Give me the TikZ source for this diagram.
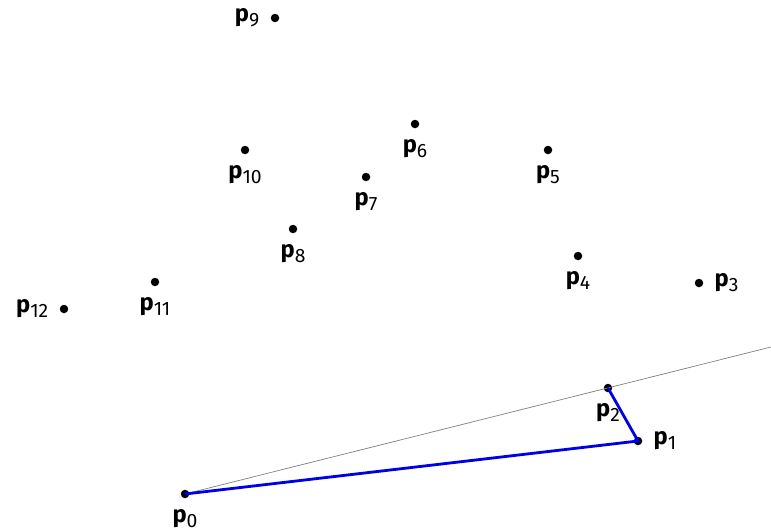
\documentclass[tikz,border=0pt]{standalone}
\usepackage{fontspec}
\setmainfont{Fira Sans}
\usetikzlibrary{positioning}
\definecolor{hullblue}{RGB}{0, 0, 230}

\newcommand{\pt}[1]{\textbf{p}\raisebox{-0.4ex}{\fontsize{11}{11}\selectfont #1}}

\begin{document}
\begin{tikzpicture}[
        x=0.02cm, y=-0.02cm,
        node distance=0.18cm,
        dot/.style={circle, fill=black, inner sep=0pt, minimum size=0.17cm},
        lbl/.style={font=\fontsize{13.5}{13.5}\selectfont, inner sep=1pt},
        hull/.style={line width=1.6pt, color=hullblue},
        ray/.style={thin, color=gray}
        ]
        \useasboundingbox (0,0) rectangle (771,531);

        \node[dot] (p0) at (185,494) {};
        \node[dot] (p1) at (638,441) {};
        \node[dot] (p2) at (608,388) {};
        \node[dot] (p3) at (699,283) {};
        \node[dot] (p4) at (578,256) {};
        \node[dot] (p5) at (548,150) {};
        \node[dot] (p6) at (415,124) {};
        \node[dot] (p7) at (366,177) {};
        \node[dot] (p8) at (293,229) {};
        \node[dot] (p9) at (275,18) {};
        \node[dot] (p10) at (245,150) {};
        \node[dot] (p11) at (155,282) {};
        \node[dot] (p12) at (64,309) {};
        \coordinate (rayend) at (771,347);

        \node[lbl, below=of p0] {\pt{0}};
        \node[lbl, right=of p1] {\pt{1}};
        \node[lbl, below=of p2] {\pt{2}};
        \node[lbl, right=of p3] {\pt{3}};
        \node[lbl, below=of p4] {\pt{4}};
        \node[lbl, below=of p5] {\pt{5}};
        \node[lbl, below=of p6] {\pt{6}};
        \node[lbl, below=of p7] {\pt{7}};
        \node[lbl, below=of p8] {\pt{8}};
        \node[lbl, left=of p9] {\pt{9}};
        \node[lbl, below=of p10] {\pt{10}};
        \node[lbl, below=of p11] {\pt{11}};
        \node[lbl, left=of p12] {\pt{12}};

        \draw[ray] (p0.center) -- (rayend);
        \draw[hull] (p0.center) -- (p1.center) -- (p2.center);
    \end{tikzpicture}
\end{document}
